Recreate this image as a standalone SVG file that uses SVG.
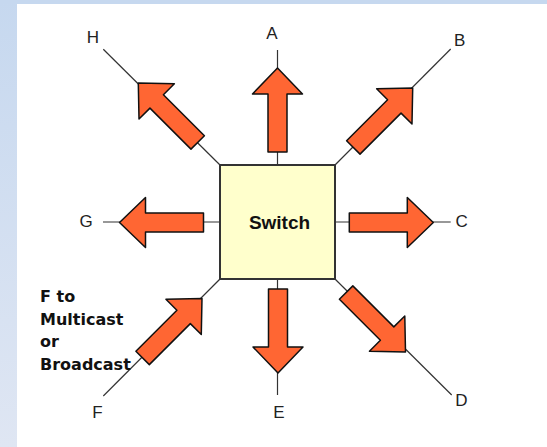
<svg xmlns="http://www.w3.org/2000/svg" width="547" height="447" viewBox="0 0 547 447">
<style>
.lbl{font-family:"Liberation Sans",Arial,sans-serif;font-size:17px;fill:#222;text-anchor:middle}
.note{font-family:"DejaVu Sans",Verdana,sans-serif;font-size:16px;font-weight:bold;fill:#111}
.sw{font-family:"Liberation Sans",Arial,sans-serif;font-size:19px;font-weight:bold;fill:#111;text-anchor:middle}
.ln{stroke:#333;stroke-width:1.2;fill:none}
.arr{fill:#ff6633;stroke:#111;stroke-width:1.5;stroke-linejoin:round}
</style>
<defs>
<linearGradient id="bg" x1="0" y1="0" x2="0" y2="1">
<stop offset="0" stop-color="#c6d8ef"/>
<stop offset="1" stop-color="#dfe6f3"/>
</linearGradient>
<path id="arr" d="M0,0 L-26,-25 L-26,-9.5 L-84,-9.5 L-84,9.5 L-26,9.5 L-26,25 Z"/>
</defs>
<rect x="0" y="0" width="547" height="447" fill="#ffffff"/>
<rect x="0" y="0" width="17" height="447" fill="url(#bg)"/>
<rect x="0" y="0" width="547" height="4" fill="#c6d8ef"/>
<g id="connectors">
<line class="ln" x1="277.5" y1="50" x2="277.5" y2="165"/>
<line class="ln" x1="450.7" y1="49" x2="335" y2="165"/>
<line class="ln" x1="335" y1="222" x2="450.7" y2="222"/>
<line class="ln" x1="335" y1="279" x2="451.7" y2="395"/>
<line class="ln" x1="277.5" y1="279" x2="277.5" y2="395"/>
<line class="ln" x1="103.3" y1="396" x2="220" y2="279"/>
<line class="ln" x1="103" y1="222" x2="220" y2="222"/>
<line class="ln" x1="103.3" y1="49.3" x2="220" y2="165"/>
<use href="#arr" class="arr" transform="translate(277.5,68) rotate(-90)"/>
<use href="#arr" class="arr" transform="translate(412.7,88) rotate(-45)"/>
<use href="#arr" class="arr" transform="translate(433.3,222.5)"/>
<use href="#arr" class="arr" transform="translate(405.5,352) rotate(45)"/>
<use href="#arr" class="arr" transform="translate(278,373) rotate(90)"/>
<use href="#arr" class="arr" transform="translate(202,298.5) rotate(-45)"/>
<use href="#arr" class="arr" transform="translate(119.5,222.5) rotate(180)"/>
<use href="#arr" class="arr" transform="translate(138.3,83) rotate(-135)"/>
</g>
<g id="switch">
<rect x="220" y="165" width="115" height="114" fill="#ffffcc" stroke="#333" stroke-width="2"/>
<text class="sw" x="279.5" y="229">Switch</text>
</g>
<g id="node-A"><text class="lbl" x="272" y="38.5">A</text></g>
<g id="node-B"><text class="lbl" x="459.7" y="45.5">B</text></g>
<g id="node-C"><text class="lbl" x="461.7" y="226.7">C</text></g>
<g id="node-D"><text class="lbl" x="461.3" y="405.8">D</text></g>
<g id="node-E"><text class="lbl" x="279" y="417.5">E</text></g>
<g id="node-F"><text class="lbl" x="97.5" y="418">F</text></g>
<g id="node-G"><text class="lbl" x="86" y="226.7">G</text></g>
<g id="node-H"><text class="lbl" x="93" y="42.7">H</text></g>
<g id="note">
<text class="note" x="40" y="302">F to</text>
<text class="note" x="40" y="324.5">Multicast</text>
<text class="note" x="40" y="347">or</text>
<text class="note" x="40" y="369.5">Broadcast</text>
</g>
</svg>
